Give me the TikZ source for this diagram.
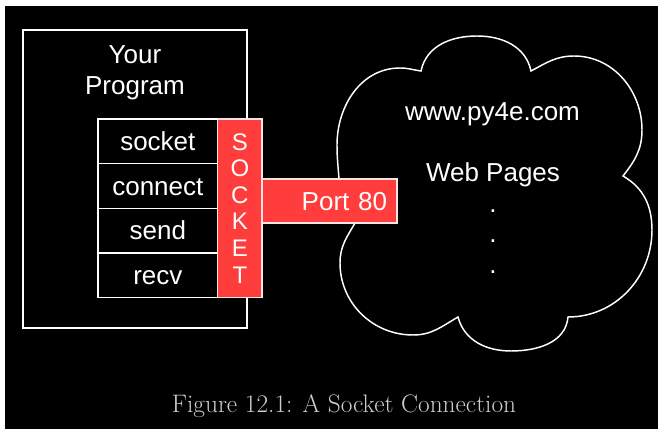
\documentclass[tikz,border=0pt]{standalone}
\usepackage{fontspec}
\newfontfamily\diagfont{Liberation Sans}
\definecolor{sockred}{RGB}{255,61,61}
\definecolor{capgray}{RGB}{205,205,205}
\begin{document}
\begin{tikzpicture}[x=0.75pt,y=0.75pt,
  frame/.style={draw=white, line width=1pt},
  txt/.style={text=white, font=\diagfont\fontsize{19.5pt}{23pt}\selectfont, inner sep=0pt},
  capcentred/.style={text height=0.75pt*18.6, text depth=0pt},
  callbox/.style={frame, minimum width=0.75pt*119.7, minimum height=0.75pt*44.7,
    txt, capcentred},
  redbox/.style={draw=white!85!sockred, line width=0.8pt, fill=sockred},
  cloudline/.style={draw=white, line width=1.1pt}]
\useasboundingbox (0,0) rectangle (658,429);
% page background
\fill[white] (0,0) rectangle (658,429);
\fill[black] (5,0) rectangle (658,423);

% the program box
\node[frame, minimum width=0.75pt*224, minimum height=0.75pt*298] (prog) at (135,250) {};
\node[txt, anchor=base] (your) at (135,365) {Your};
\node[txt, anchor=base] (program) at (135,334) {Program};

% the server cloud
\draw[cloudline] (421,358) to[out=78,in=180] (477,393) to[out=0,in=102] (531,358)
  to[out=28,in=180] (574,373) to[out=0,in=90] (642,299) to[out=-90,in=52] (623,253)
  to[out=-30,in=90] (652,199) to[out=-90,in=0] (568,112)
  to[out=-95,in=0] (511,78) to[out=180,in=-75] (458,112)
  to[out=-150,in=0] (413,94) to[out=180,in=-90] (340,166) to[out=90,in=-120] (355,206)
  -- (352,229) -- (339,250)
  to[out=94,in=-90] (337,284) to[out=90,in=180] (400,361) to[out=0,in=172] cycle;

% socket calls
\node[callbox] (socket) at (157.85,287.8) {socket};
\node[callbox] (connect) at (157.85,243.1) {connect};
\node[callbox] (send) at (157.85,198.4) {send};
\node[callbox] (recv) at (157.85,153.7) {recv};

% the socket itself
\node[redbox, minimum width=0.75pt*44.3, minimum height=0.75pt*178.7, inner sep=0pt,
  text=white, align=center, font=\diagfont\fontsize{18pt}{19.9pt}\selectfont]
  (sock) at (239.85,220.65) {S\\O\\C\\K\\E\\T};

% the port
\node[redbox, minimum width=0.75pt*135, minimum height=0.75pt*44, inner xsep=0.75pt*10,
  inner ysep=0pt, text width=0.75pt*115, align=right, txt, capcentred]
  (port) at (329.5,228) {Port 80};

% server contents
\node[txt, anchor=base] (host) at (492.5,308) {www.py4e.com};
\node[txt, anchor=base] (pages) at (493,247.3) {Web Pages};
\node[txt, anchor=base] (dot1) at (493,216.6) {.};
\node[txt, anchor=base] (dot2) at (493,186) {.};
\node[txt, anchor=base] (dot3) at (493,155.3) {.};

% caption
\node[anchor=base, text=capgray, inner sep=0pt, font=\fontsize{19pt}{22pt}\selectfont]
  (caption) at (344,16.7) {Figure 12.1: A Socket Connection};
\end{tikzpicture}
\end{document}
